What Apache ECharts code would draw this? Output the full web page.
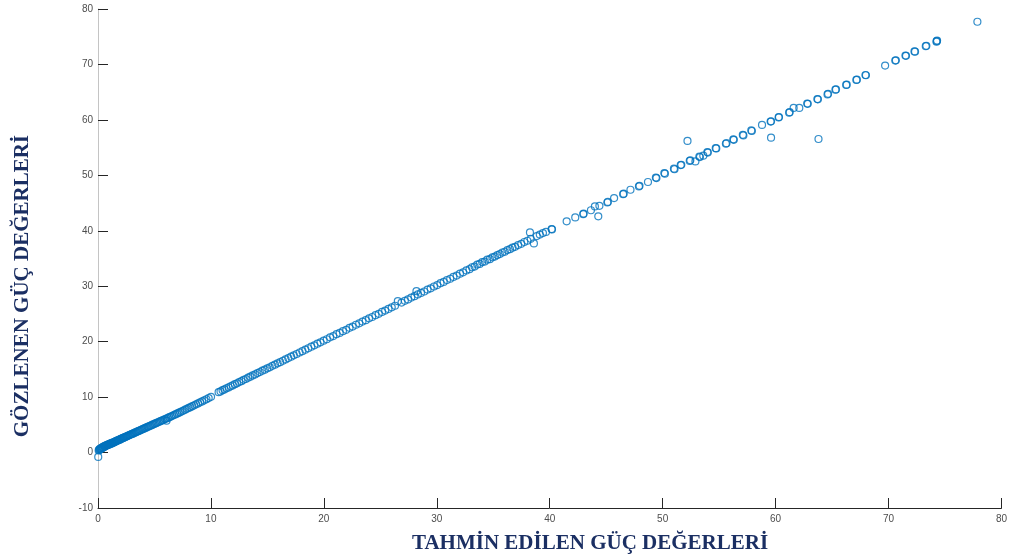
<!DOCTYPE html>
<html>
<head>
<meta charset="utf-8">
<script src="https://cdn.jsdelivr.net/npm/echarts@6/dist/echarts.min.js"></script>
<style>
  html, body { margin: 0; padding: 0; background: #ffffff; }
  #chart { width: 1010px; height: 558px; }
</style>
</head>
<body>
<div id="chart"></div>
<script>
// Predicted power (x) against observed power (y)
const predicted = [
  0.02,0.06,0.10,0.13,0.17,0.21,0.24,0.28,0.31,0.35,0.39,0.42,0.46,0.50,0.54,0.58,0.61,0.65,0.69,0.73,
  0.77,0.81,0.86,0.90,0.94,0.99,1.03,1.08,1.12,1.17,1.22,1.26,1.31,1.36,1.41,1.46,1.51,1.57,1.62,1.68,
  1.73,1.79,1.85,1.91,1.97,2.03,2.09,2.16,2.22,2.29,2.35,2.42,2.49,2.56,2.63,2.70,2.78,2.85,2.93,
  3.01,3.10,3.18,3.27,3.36,3.45,3.54,3.63,3.72,3.82,3.91,4.01,4.10,4.20,4.30,4.40,4.50,4.61,4.71,4.82,
  4.92,5.03,5.14,5.25,5.36,5.48,5.59,5.71,5.82,5.94,6.07,6.07,6.19,6.32,6.45,6.58,6.72,6.85,6.99,7.13,
  7.27,7.42,7.57,7.72,7.87,8.03,8.19,8.35,8.52,8.69,8.86,9.04,9.22,9.41,9.60,9.80,10.01,
  10.68,10.85,11.03,11.20,11.38,11.57,11.75,11.93,12.12,12.31,12.50,12.70,12.89,13.09,13.29,13.49,13.70,
  13.91,14.12,14.33,14.55,14.77,14.99,15.21,15.44,15.67,15.90,16.13,16.37,16.61,16.85,17.10,17.34,17.59,
  17.85,18.10,18.36,18.62,18.89,19.16,19.43,19.70,19.98,
  20.26,20.55,20.83,21.12,21.40,21.69,21.98,22.27,22.55,22.84,23.13,23.42,23.71,24.00,24.28,24.57,24.86,
  25.15,25.43,25.72,26.01,26.30,26.55,26.88,27.17,27.45,27.74,28.03,28.20,28.32,28.60,28.89,29.18,29.46,
  29.75,30.04,30.33,30.61,30.90,31.19,31.47,31.76,32.05,32.33,32.62,32.90,33.12,33.35,33.58,33.80,34.02,
  34.25,34.47,34.70,34.92,35.14,35.36,35.58,35.80,36.02,36.25,36.48,36.70,36.93,37.20,37.48,37.75,38.02,
  38.25,38.32,38.60,38.85,39.12,39.40,
  39.67,40.17,40.20,41.50,42.26,42.97,43.00,43.65,44.00,44.40,44.30,45.10,45.15,45.70,46.50,46.55,47.15,
  47.90,47.95,48.70,49.40,49.45,50.15,50.20,51.00,51.05,51.60,51.65,52.40,52.45,52.20,52.90,53.25,53.60,
  53.30,53.96,54.00,54.70,54.75,55.60,55.65,56.26,56.30,57.10,57.15,57.85,57.90,58.80,59.56,59.60,59.60,
  60.27,60.30,61.20,61.25,61.60,62.10,62.80,62.85,63.70,63.75,63.80,64.60,64.65,65.30,65.35,66.25,66.30,
  67.20,67.15,67.96,68.00,69.70,70.60,70.65,71.55,71.50,72.30,72.35,73.30,73.35,74.27,74.30,74.25,77.87
];
const observed = [
  -0.78,0.38,0.55,0.47,0.66,0.58,0.74,0.69,0.83,0.78,0.95,0.88,1.02,0.97,1.12,1.05,1.21,1.13,1.27,1.22,
  1.34,1.30,1.42,1.38,1.49,1.46,1.58,1.52,1.66,1.61,1.74,1.68,1.80,1.77,1.90,1.86,1.97,2.02,2.10,2.07,
  2.18,2.22,2.31,2.27,2.42,2.45,2.51,2.58,2.63,2.69,2.75,2.81,2.89,2.93,3.02,3.06,3.15,3.20,3.28,
  3.36,3.41,3.52,3.58,3.67,3.74,3.85,3.90,4.01,4.08,4.19,4.26,4.35,4.45,4.53,4.64,4.71,4.83,4.90,5.02,
  5.10,5.21,5.30,5.41,5.49,5.62,5.70,5.83,5.91,6.04,6.14,5.75,6.25,6.38,6.49,6.62,6.76,6.87,7.02,7.15,
  7.29,7.44,7.58,7.73,7.88,8.05,8.19,8.37,8.52,8.70,8.86,9.06,9.22,9.42,9.61,9.82,10.05,
  10.89,11.03,11.25,11.38,11.60,11.74,11.96,12.11,12.33,12.49,12.72,12.88,13.11,13.27,13.51,13.68,13.92,
  14.09,14.34,14.51,14.76,14.95,15.20,15.38,15.64,15.85,16.10,16.31,16.56,16.79,17.04,17.29,17.53,17.78,
  18.05,18.29,18.56,18.81,19.09,19.34,19.63,19.88,20.17,
  20.44,20.78,21.01,21.35,21.58,21.90,22.14,22.49,22.72,23.05,23.30,23.62,23.88,24.21,24.45,24.78,25.02,
  25.36,25.60,25.90,26.20,26.48,27.30,27.05,27.36,27.62,27.95,28.20,29.10,28.52,28.80,29.05,29.39,29.62,
  29.95,30.20,30.55,30.78,31.10,31.35,31.68,31.92,32.27,32.50,32.85,33.08,33.42,33.55,33.90,34.02,34.35,
  34.45,34.78,34.88,35.22,35.35,35.62,35.80,36.08,36.22,36.52,36.68,36.95,37.10,37.42,37.65,37.98,38.20,
  39.70,38.55,37.72,39.05,39.32,39.58,
  39.80,40.30,40.25,41.70,42.40,43.00,43.10,43.70,44.40,44.50,42.60,45.10,45.20,45.90,46.60,46.70,47.40,
  48.00,48.10,48.80,49.60,49.50,50.40,50.30,51.20,51.10,51.85,51.90,52.60,52.70,56.20,52.50,53.40,53.55,
  53.30,54.20,54.10,54.90,54.85,55.70,55.80,56.50,56.40,57.30,57.20,58.10,58.00,59.10,59.70,59.75,56.80,
  60.45,60.50,61.30,61.40,62.15,62.15,62.95,62.90,63.75,63.70,56.55,64.60,64.70,65.45,65.50,66.30,66.35,
  67.25,67.20,68.10,68.05,69.80,70.70,70.75,71.55,71.60,72.35,72.30,73.30,73.35,74.20,74.30,74.10,77.70
];

const xTicks = { min: 0, max: 80, step: 10 };
const yTicks = { min: -10, max: 80, step: 10 };
const xTitle = 'TAHMİN EDİLEN GÜÇ DEĞERLERİ';
const yTitle = 'GÖZLENEN GÜÇ DEĞERLERİ';

const points = predicted.map((p, i) => [p, observed[i]]);

const chart = echarts.init(document.getElementById('chart'), null, { renderer: 'canvas' });
const tickLabel = { color: '#4d4d4d', fontSize: 10, fontFamily: 'Liberation Sans, Arial, sans-serif' };
const titleStyle = { fill: '#1b2f63', fontSize: 21, fontWeight: 'bold', fontFamily: 'Liberation Serif, Times New Roman, serif' };

chart.setOption({
  animation: false,
  backgroundColor: '#ffffff',
  grid: { left: 98, right: 7, top: 9, bottom: 50, containLabel: false },
  xAxis: {
    type: 'value', min: xTicks.min, max: xTicks.max, interval: xTicks.step,
    axisLine: { show: true, onZero: false, lineStyle: { color: '#262626', width: 1 } },
    axisTick: { show: true, inside: true, length: 10, lineStyle: { color: '#262626' } },
    axisLabel: Object.assign({ margin: 6 }, tickLabel),
    splitLine: { show: false }
  },
  yAxis: {
    type: 'value', min: yTicks.min, max: yTicks.max, interval: yTicks.step,
    axisLine: { show: true, onZero: false, lineStyle: { color: '#c4c4c4', width: 1 } },
    axisTick: { show: true, inside: true, length: 10, lineStyle: { color: '#262626' } },
    axisLabel: Object.assign({ margin: 5 }, tickLabel),
    splitLine: { show: false }
  },
  graphic: [
    { type: 'text', left: 412, top: 533, style: Object.assign({ text: xTitle }, titleStyle) },
    { type: 'text', left: 12, top: 135, rotation: Math.PI / 2,
      style: Object.assign({ text: yTitle }, titleStyle) }
  ],
  series: [{
    type: 'scatter',
    data: points,
    symbol: 'circle',
    symbolSize: 7,
    itemStyle: { color: 'rgba(0,0,0,0)', borderColor: '#0072BD', borderWidth: 1.2 },
    emphasis: { disabled: true },
    silent: true
  }]
});
</script>
</body>
</html>
